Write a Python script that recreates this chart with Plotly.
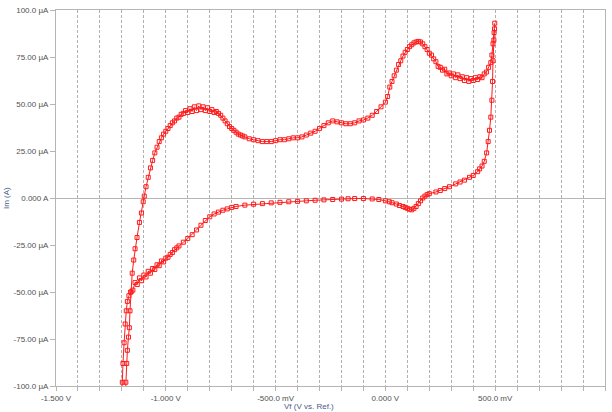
import plotly.graph_objects as go

# Forward (anodic) sweep: potential (V) and current (µA)
V_fwd = [-1.186, -1.182, -1.178, -1.175, -1.170, -1.166, -1.163, -1.158, -1.153, -1.146,
         -1.140, -1.131, -1.120, -1.111, -1.103, -1.098, -1.090, -1.080, -1.070, -1.060,
         -1.050, -1.040, -1.030, -1.020, -1.010, -1.000, -0.990, -0.980, -0.970, -0.960,
         -0.950, -0.940, -0.930, -0.920, -0.910, -0.900, -0.890, -0.880, -0.870, -0.860,
         -0.850, -0.840, -0.830, -0.820, -0.810, -0.800, -0.790, -0.780, -0.770, -0.760,
         -0.750, -0.740, -0.730, -0.720, -0.710, -0.700, -0.690, -0.680, -0.670, -0.660,
         -0.650, -0.640, -0.620, -0.600, -0.580, -0.560, -0.540, -0.520, -0.500, -0.480,
         -0.460, -0.440, -0.420, -0.400, -0.380, -0.360, -0.340, -0.320, -0.300, -0.280,
         -0.260, -0.240, -0.220, -0.200, -0.180, -0.160, -0.140, -0.120, -0.100, -0.080,
         -0.060, -0.040, -0.020, 0.000, 0.010, 0.020, 0.030, 0.040, 0.050, 0.060,
         0.070, 0.080, 0.090, 0.100, 0.110, 0.120, 0.130, 0.140, 0.150, 0.160,
         0.170, 0.180, 0.190, 0.200, 0.210, 0.220, 0.230, 0.240, 0.250, 0.260,
         0.270, 0.280, 0.290, 0.300, 0.310, 0.320, 0.330, 0.340, 0.350, 0.360,
         0.370, 0.380, 0.390, 0.400, 0.410, 0.420, 0.430, 0.440, 0.450, 0.460,
         0.470, 0.480, 0.485, 0.490, 0.495, 0.498]
I_fwd = [-110, -98, -88, -81, -74, -69, -60, -50, -40, -33,
         -27, -21, -13, -8, -2, 1, 6, 11, 16, 20,
         24, 27, 30, 32, 34, 35.5, 37, 38.5, 40, 41,
         42.5, 43, 44.5, 45, 46.5, 45.5, 47.5, 46, 48.5, 46.5,
         49, 47, 48.5, 46.5, 48, 46, 47, 45.5, 46, 45,
         44, 42.5, 41, 39.5, 38, 37, 36, 35, 34, 33.5,
         33, 32.5, 31.5, 31, 30.5, 30, 30, 30, 30.5, 31,
         31, 31.5, 32, 32, 32.5, 33.5, 34.5, 35.5, 37, 38.5,
         40, 41, 40.5, 40, 39.5, 39.5, 40, 41, 41.5, 42.5,
         44, 46, 48.5, 51, 54, 59, 62, 65, 68, 71,
         73, 75.5, 77.5, 79, 80.5, 81.5, 82.5, 83, 83.3, 83,
         82, 80.5, 79, 77, 76, 74, 72.5, 70, 69.5, 68,
         68.5, 66, 66.5, 65, 66, 64, 65.5, 63.5, 64.5, 62.5,
         64, 62, 63.5, 62.5, 64, 63, 64.5, 64, 66, 67,
         69.5, 72, 76, 82, 88, 93]

# Reverse (cathodic) sweep: potential (V) and current (µA)
V_rev = [0.497, 0.494, 0.490, 0.488, 0.485, 0.480, 0.474, 0.468, 0.461, 0.450,
         0.440, 0.429, 0.420, 0.400, 0.383, 0.360, 0.340, 0.320, 0.292, 0.270,
         0.250, 0.230, 0.200, 0.190, 0.180, 0.170, 0.160, 0.150, 0.140, 0.130,
         0.120, 0.110, 0.100, 0.090, 0.080, 0.064, 0.050, 0.030, 0.018, 0.000,
         -0.030, -0.060, -0.100, -0.140, -0.170, -0.200, -0.240, -0.280, -0.320, -0.360,
         -0.400, -0.440, -0.480, -0.520, -0.560, -0.600, -0.640, -0.680, -0.700, -0.720,
         -0.740, -0.760, -0.780, -0.800, -0.820, -0.840, -0.860, -0.880, -0.900, -0.920,
         -0.940, -0.950, -0.960, -0.970, -0.980, -0.990, -1.000, -1.010, -1.020, -1.030,
         -1.040, -1.050, -1.060, -1.070, -1.080, -1.090, -1.100, -1.110, -1.120, -1.130,
         -1.140, -1.150, -1.160, -1.168, -1.175, -1.180, -1.185, -1.190, -1.195, -1.198,
         -1.202]
I_rev = [90, 84, 73, 62, 52, 43, 36, 30, 24, 19.5,
         17, 15.5, 14, 12, 11, 9.5, 8.5, 7.5, 6, 5,
         4, 3.2, 2.3, 1.8, 1, 0, -1.5, -3, -4.5, -5.5,
         -6.3, -6, -5.5, -5, -4.5, -4, -3.2, -2.5, -2, -1.5,
         -0.8, -0.5, -0.3, -0.3, -0.4, -0.6, -0.8, -1, -1.2, -1.5,
         -1.8, -2, -2.3, -2.6, -3, -3.3, -3.8, -4.5, -5, -5.8,
         -6.5, -7.5, -8.5, -10, -12, -14.5, -17, -19.5, -21.5, -23.5,
         -25.5, -26.5, -27.5, -29, -30, -31.5, -32, -34, -33.5, -36,
         -35.5, -38, -37.5, -40, -39, -42, -41, -44, -42.5, -46,
         -45, -49, -50, -52, -55, -60, -67, -77, -88, -98,
         -110]

# Axis ticks
x_tickvals = [-1.5, -1.4, -1.3, -1.2, -1.1, -1.0, -0.9, -0.8, -0.7, -0.6, -0.5, -0.4, -0.3,
              -0.2, -0.1, 0.0, 0.1, 0.2, 0.3, 0.4, 0.5, 0.6, 0.7, 0.8, 0.9, 1.0]
x_ticktext = ["-1.500 V", "", "", "", "", "-1.000 V", "", "", "", "", "-500.0 mV", "", "", "",
              "", "0.000 V", "", "", "", "", "500.0 mV", "", "", "", "", "1.000 V"]
y_tickvals = [-100, -75, -50, -25, 0, 25, 50, 75, 100]
y_ticktext = ["-100.0 µA", "-75.00 µA", "-50.00 µA", "-25.00 µA", "0.000 A",
              "25.00 µA", "50.00 µA", "75.00 µA", "100.0 µA"]

red = "#ff1a1a"
V_all = V_fwd + [None] + V_rev
I_all = I_fwd + [None] + I_rev

fig = go.Figure()
fig.add_trace(go.Scatter(
    x=V_all, y=I_all, mode="lines+markers",
    line=dict(color=red, width=1),
    marker=dict(symbol="square-open", size=4, color=red, line=dict(width=1, color=red)),
    connectgaps=False, showlegend=False, cliponaxis=True,
))

font = dict(family="Liberation Sans, Arial, sans-serif", size=8, color="#505050")
title_font = dict(family="Liberation Sans, Arial, sans-serif", size=8, color="#4a5a8a")
fig.update_layout(
    width=612, height=412,
    margin=dict(l=56, r=7, t=10, b=26),
    paper_bgcolor="white", plot_bgcolor="white",
    font=font,
    xaxis=dict(
        range=[-1.5, 1.0], tickvals=x_tickvals, ticktext=x_ticktext,
        showgrid=True, gridcolor="#b0b0b0", griddash="3px,2px", gridwidth=1,
        zeroline=False, showline=True, linecolor="#b5b5b5", linewidth=1, mirror=True,
        ticks="outside", ticklen=4, tickcolor="#b5b5b5", tickfont=font,
    ),
    yaxis=dict(
        range=[-100, 100], tickvals=y_tickvals, ticktext=y_ticktext,
        showgrid=False, zeroline=True, zerolinecolor="#b5b5b5", zerolinewidth=1,
        showline=True, linecolor="#b5b5b5", linewidth=1, mirror=True,
        ticks="outside", ticklen=5, tickcolor="#b5b5b5", tickfont=font,
    ),
    annotations=[
        dict(text="Vf (V vs. Ref.)", xref="paper", yref="paper", x=0.46, y=0,
             yshift=-14, yanchor="top", showarrow=False, font=title_font),
        dict(text="Im (A)", xref="paper", yref="paper", x=0, y=0.5, xshift=-50,
             textangle=-90, xanchor="center", showarrow=False, font=title_font),
    ],
)

fig.write_html("out.html")
